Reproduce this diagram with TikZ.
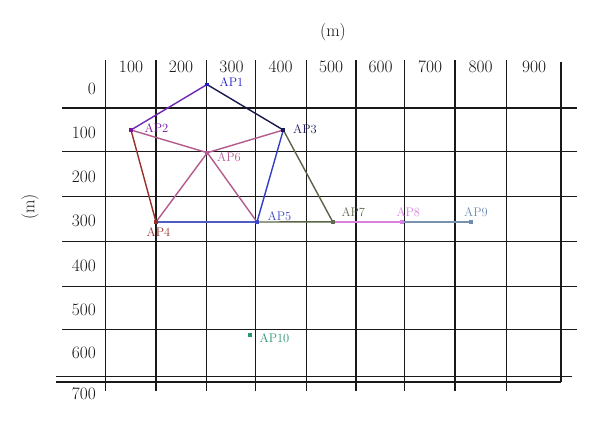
\documentclass[tikz,border=0pt]{standalone}
\usetikzlibrary{calc}
\definecolor{gridc}{RGB}{25,25,25}
\definecolor{cAPa}{RGB}{30,30,200}
\definecolor{cAPb}{RGB}{120,20,160}
\definecolor{cAPc}{RGB}{25,25,90}
\definecolor{cAPd}{RGB}{150,50,40}
\definecolor{cAPe}{RGB}{60,70,200}
\definecolor{cAPf}{RGB}{180,90,150}
\definecolor{cAPg}{RGB}{95,105,80}
\definecolor{cAPh}{RGB}{215,130,225}
\definecolor{cAPi}{RGB}{110,140,175}
\definecolor{cAPj}{RGB}{40,150,110}
\definecolor{eAB}{RGB}{110,40,180}
\definecolor{eAC}{RGB}{25,25,80}
\definecolor{eMauve}{RGB}{180,90,140}
\definecolor{eBD}{RGB}{150,50,40}
\definecolor{eCE}{RGB}{50,60,200}
\definecolor{eDE}{RGB}{80,90,200}
\definecolor{eOlive}{RGB}{90,100,70}
\definecolor{eGH}{RGB}{215,130,225}
\definecolor{eHI}{RGB}{120,145,175}
\begin{document}
\begin{tikzpicture}[x=1bp,y=-1bp,
  gridline/.style={draw=gridc,line width=1.5bp},
  axislabel/.style={inner sep=0pt,text=gridc,font=\fontsize{17.5}{20}\selectfont},
  apdot/.style={rectangle,inner sep=0pt,minimum size=3.8bp,fill=#1},
  aplabel/.style={inner sep=0pt,text=#1,font=\fontsize{12.5}{14}\selectfont},
  link/.style={draw=#1,line width=1.4bp}]
\useasboundingbox[fill=white] (0,0) rectangle (600,423);
% horizontal grid lines
\foreach \yy in {108,151.5,196.5,241.5,286.5,329.5}
  \draw[gridline] (62,\yy) -- (577,\yy);
\draw[gridline] (56,376.5) -- (572,376.5);
\draw[gridline] (56,382) -- (561,382);
% vertical grid lines
\foreach \xx in {105.7,156,206.5,255.5,306.5,356,404.5,455,506.7}
  \draw[gridline] (\xx,60) -- (\xx,391);
\draw[gridline] (561,62) -- (561,382);
% column labels
\foreach \xx/\t in {131/100,181/200,231.5/300,280.5/400,331/500,380.5/600,430/700,480.5/800,534/900}
  \node[axislabel] at (\xx,67) {\t};
% row labels
\foreach \yy/\t in {89/0,133/100,177/200,221/300,265.5/400,309.5/500,353/600,394/700}
  \node[axislabel,anchor=east] at (96,\yy) {\t};
\node[axislabel] (mx) at (333,32) {(m)};
\node[axislabel,rotate=90] (my) at (30,207) {(m)};
% access points
\node[apdot=cAPa] (ap1) at (207,84.5) {};
\node[apdot=cAPb] (ap2) at (131,130) {};
\node[apdot=cAPc] (ap3) at (283.3,130) {};
\node[apdot=cAPd] (ap4) at (156,222) {};
\node[apdot=cAPe] (ap5) at (257,222) {};
\node[apdot=cAPf] (ap6) at (207.3,152.7) {};
\node[apdot=cAPg] (ap7) at (332.7,221.8) {};
\node[apdot=cAPh] (ap8) at (401.7,221.8) {};
\node[apdot=cAPi] (ap9) at (470.7,221.8) {};
\node[apdot=cAPj] (ap10) at (250,335) {};
% links
\draw[link=eAB] (ap1.center) -- (ap2.center);
\draw[link=eAC] (ap1.center) -- (ap3.center);
\draw[link=eMauve] (ap2.center) -- (ap6.center);
\draw[link=eMauve] (ap6.center) -- (ap3.center);
\draw[link=eMauve] (ap6.center) -- (ap4.center);
\draw[link=eMauve] (ap6.center) -- (ap5.center);
\draw[link=eBD] (ap2.center) -- (ap4.center);
\draw[link=eCE] (ap3.center) -- (ap5.center);
\draw[link=eDE] (ap4.center) -- (ap5.center);
\draw[link=eOlive] (ap3.center) -- (ap7.center);
\draw[link=eOlive] (ap5.center) -- (ap7.center);
\draw[link=eGH] (ap7.center) -- (ap8.center);
\draw[link=eHI] (ap8.center) -- (ap9.center);
% redraw dots on top
\foreach \n/\c in {ap1/cAPa,ap2/cAPb,ap3/cAPc,ap4/cAPd,ap5/cAPe,ap6/cAPf,ap7/cAPg,ap8/cAPh,ap9/cAPi}
  \fill[\c] ($(\n.center)+(-1.9,-1.9)$) rectangle ($(\n.center)+(1.9,1.9)$);
% labels
\node[aplabel=cAPa] (l1) at (231.5,82.5) {AP1};
\node[aplabel=cAPb] (l2) at (156.5,128) {AP2};
\node[aplabel=cAPc] (l3) at (305,129) {AP3};
\node[aplabel=cAPd] (l4) at (158.5,232.5) {AP4};
\node[aplabel=cAPe] (l5) at (279.5,215.7) {AP5};
\node[aplabel=cAPf] (l6) at (229,157) {AP6};
\node[aplabel=cAPg] (l7) at (353.3,211.7) {AP7};
\node[aplabel=cAPh] (l8) at (408.3,212) {AP8};
\node[aplabel=cAPi] (l9) at (476,212) {AP9};
\node[aplabel=cAPj] (l10) at (274.5,338) {AP10};
\end{tikzpicture}
\end{document}
